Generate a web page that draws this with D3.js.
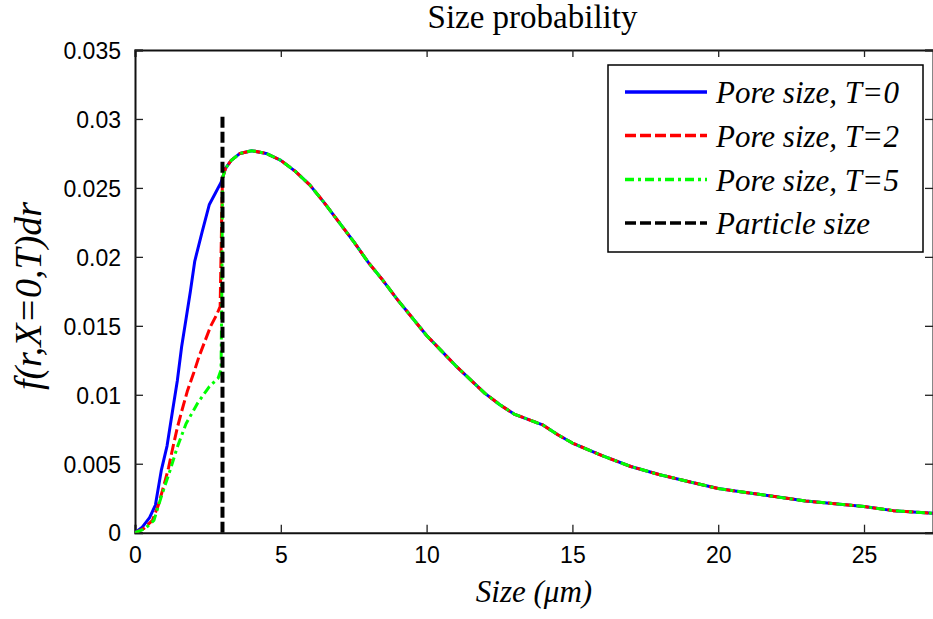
<!DOCTYPE html>
<html>
<head>
<meta charset="utf-8">
<script src="https://cdn.jsdelivr.net/npm/d3@7"></script>
<style>
  html, body { margin: 0; padding: 0; background: #fff; }
  svg { display: block; }
</style>
</head>
<body>
<svg id="chart" width="933" height="619"></svg>
<script>
// Rising branch of each pore-size curve, below the particle size (r < 3 µm)
const riseT0 = [[0,0],[0.25,0.0004],[0.5,0.0011],[0.7,0.002],[0.9,0.0045],[1.1,0.0063],[1.3,0.009],
  [1.45,0.011],[1.6,0.0135],[1.75,0.0155],[1.9,0.0175],[2.05,0.0197],[2.3,0.0218],[2.55,0.0238],
  [2.75,0.0246],[2.95,0.0254]];
const riseT2 = [[0,0],[0.3,0.0003],[0.6,0.0009],[0.8,0.002],[1.0,0.0035],[1.15,0.0047],[1.3,0.0062],
  [1.45,0.0076],[1.6,0.0088],[1.8,0.0103],[2.0,0.0115],[2.2,0.0128],[2.4,0.0139],[2.6,0.015],
  [2.8,0.0158],[2.92,0.0164],[2.97,0.0225]];
const riseT5 = [[0,0],[0.35,0.0003],[0.65,0.0009],[0.9,0.0026],[1.2,0.0045],[1.45,0.0062],[1.75,0.0079],
  [2.15,0.0094],[2.55,0.0106],[2.85,0.0112],[2.95,0.0118],[2.98,0.018]];
// Common branch above the particle size (identical for every T)
const tail = [[3.0,0.0257],[3.1,0.0264],[3.3,0.0270],[3.6,0.0275],[4.0,0.0277],[4.5,0.0275],[5.0,0.0270],
  [5.5,0.0262],[6.0,0.0252],[6.5,0.0239],[7.0,0.0225],[7.5,0.0211],[8.0,0.0196],[8.5,0.0183],
  [9.0,0.0169],[9.5,0.0156],[10.0,0.0143],[10.5,0.0132],[11.0,0.0121],[11.5,0.0111],[12.0,0.0101],
  [12.5,0.0093],[13.0,0.0086],[13.5,0.0082],[14.0,0.0078],[14.5,0.0071],[15.0,0.0065],[16.0,0.0056],
  [17.0,0.0048],[18.0,0.0042],[19.0,0.0037],[20.0,0.0032],[21.0,0.0029],[22.0,0.0026],[23.0,0.0023],
  [24.0,0.0021],[25.0,0.0019],[26.0,0.0016],[27.4,0.0014]];
const particleSize = 3;
const particleTop = 0.0303;

const xTicks = [0, 5, 10, 15, 20, 25];
const yTicks = [0, 0.005, 0.01, 0.015, 0.02, 0.025, 0.03, 0.035];
const yTickLabels = ["0", "0.005", "0.01", "0.015", "0.02", "0.025", "0.03", "0.035"];
const seriesNames = ["Pore size, T=0", "Pore size, T=2", "Pore size, T=5", "Particle size"];

const series = [
  { name: seriesNames[0], data: riseT0.concat(tail), color: "#0000ff", dash: null },
  { name: seriesNames[1], data: riseT2.concat(tail), color: "#ff0000", dash: "11,4" },
  { name: seriesNames[2], data: riseT5.concat(tail), color: "#00ff00", dash: "9,4,3,4" }
];

const svg = d3.select("#chart");
const L = 135, R = 934, T = 50, B = 532.7;

const x = d3.scaleLinear().domain([0, 27.4]).range([L, R]);
const y = d3.scaleLinear().domain([0, 0.035]).range([B, T]);

svg.append("defs").append("clipPath").attr("id", "plotClip")
  .append("rect").attr("x", L).attr("y", T).attr("width", R - L).attr("height", B - T);

const serif = "'Liberation Serif', 'Times New Roman', Times, serif";

// Title
svg.append("text").attr("x", (L + R) / 2 - 2).attr("y", 28)
  .attr("text-anchor", "middle")
  .style("font-family", serif)
  .style("font-size", "33px").text("Size probability");

// Axes (ticks point inward, box drawn around the plot)
const tickFont = "'Liberation Sans', Arial, sans-serif";
const gx = svg.append("g").attr("transform", `translate(0,${B})`)
  .call(d3.axisBottom(x).tickValues(xTicks).tickSize(-8).tickPadding(14).tickFormat(d3.format("d")));
const gxTop = svg.append("g").attr("transform", `translate(0,${T})`)
  .call(d3.axisTop(x).tickValues(xTicks).tickSize(-7).tickFormat(""));
const gy = svg.append("g").attr("transform", `translate(${L},0)`)
  .call(d3.axisLeft(y).tickValues(yTicks).tickSize(-8).tickPadding(14)
    .tickFormat((d, i) => yTickLabels[i]));
const gyRight = svg.append("g").attr("transform", `translate(${R - 1},0)`)
  .call(d3.axisRight(y).tickValues(yTicks).tickSize(-8).tickFormat(""));

[gx, gxTop, gy, gyRight].forEach(g => {
  g.select(".domain").attr("stroke", "#111").attr("stroke-width", 2);
  g.selectAll(".tick line").attr("stroke", "#222").attr("stroke-width", 1.3);
  g.selectAll(".tick text").attr("fill", "#000")
    .style("font-family", tickFont).style("font-size", "23px");
});
gx.selectAll(".tick text").attr("dy", "0.71em");
gy.selectAll(".tick text").attr("dy", "0.36em");

// Axis labels
svg.append("text").attr("x", 534).attr("y", 602).attr("text-anchor", "middle")
  .style("font-family", serif)
  .style("font-style", "italic").style("font-size", "31px").text("Size (μm)");

svg.append("text").attr("transform", "translate(41,296) rotate(-90)")
  .attr("text-anchor", "middle")
  .style("font-family", serif)
  .style("font-style", "italic").style("font-size", "38px")
  .text("f(r,X=0,T)dr");

// Curves
const line = d3.line().x(d => x(d[0])).y(d => y(d[1]));
const plot = svg.append("g").attr("clip-path", "url(#plotClip)");
series.forEach(s => {
  plot.append("path").datum(s.data).attr("d", line)
    .attr("fill", "none").attr("stroke", s.color).attr("stroke-width", 3)
    .attr("stroke-linejoin", "round")
    .attr("stroke-dasharray", s.dash);
});
// Particle size marker
plot.append("path").datum([[particleSize, 0], [particleSize, particleTop]]).attr("d", line)
  .attr("fill", "none").attr("stroke", "#000").attr("stroke-width", 4)
  .attr("stroke-dasharray", "11,4");

// Legend
const lg = svg.append("g");
lg.append("rect").attr("x", 608).attr("y", 65).attr("width", 315).attr("height", 187)
  .attr("fill", "#fff").attr("stroke", "#000").attr("stroke-width", 1.5);
const legendItems = [
  { color: "#0000ff", dash: null },
  { color: "#ff0000", dash: "11,4" },
  { color: "#00ff00", dash: "9,4,3,4" },
  { color: "#000000", dash: "11,4" }
];
const rowY = [92, 135.5, 179.5, 223];
seriesNames.forEach((name, i) => {
  lg.append("line").attr("x1", 625).attr("x2", 707).attr("y1", rowY[i]).attr("y2", rowY[i])
    .attr("stroke", legendItems[i].color).attr("stroke-width", 3.5)
    .attr("stroke-dasharray", legendItems[i].dash);
  const t = lg.append("text").attr("x", 716).attr("y", rowY[i] + 11)
    .style("font-family", serif)
    .style("font-style", "italic").style("font-size", "31px");
  const eq = name.indexOf("=");
  if (eq >= 0) {
    t.append("tspan").text(name.slice(0, eq));
    t.append("tspan").attr("dx", 2).style("font-style", "normal").text("=");
    t.append("tspan").attr("dx", 2).text(name.slice(eq + 1));
  } else {
    t.text(name);
  }
});
</script>
</body>
</html>
